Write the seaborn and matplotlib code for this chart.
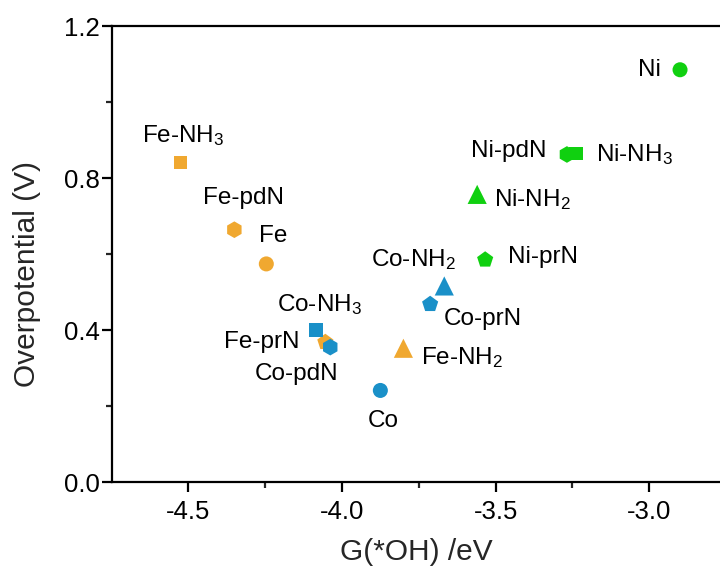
import matplotlib
matplotlib.use("Agg")
import matplotlib.pyplot as plt
import seaborn as sns
import pandas as pd
from matplotlib.ticker import MultipleLocator

# ---- data ----
names = ["Fe-NH$_3$", "Fe-pdN", "Fe", "Fe-prN", "Fe-NH$_2$",
         "Co-NH$_3$", "Co-pdN", "Co", "Co-prN", "Co-NH$_2$",
         "Ni-prN", "Ni-NH$_2$", "Ni-pdN", "Ni-NH$_3$", "Ni"]
metal = ["Fe", "Fe", "Fe", "Fe", "Fe",
         "Co", "Co", "Co", "Co", "Co",
         "Ni", "Ni", "Ni", "Ni", "Ni"]
ligand = ["NH3", "pdN", "bare", "prN", "NH2",
          "NH3", "pdN", "bare", "prN", "NH2",
          "prN", "NH2", "pdN", "NH3", "bare"]
g_oh = [-4.525, -4.35, -4.246, -4.054, -3.80,
        -4.084, -4.038, -3.875, -3.713, -3.667,
        -3.534, -3.56, -3.268, -3.238, -2.90]
overpot = [0.841, 0.664, 0.574, 0.368, 0.352,
           0.400, 0.355, 0.241, 0.468, 0.516,
           0.585, 0.757, 0.862, 0.865, 1.085]

# label offsets in pixels (dx, dy) relative to each marker
offsets = [(3, 27), (9, 32), (7, 28), (-64, 0), (59, -9),
           (3, 25), (-34, -27), (3, -31), (53, -15), (-31, 26),
           (58, 3), (55, -5), (-58, 3), (58, -1), (-31, 0)]

df = pd.DataFrame({"name": names, "metal": metal, "ligand": ligand,
                   "G": g_oh, "eta": overpot})

palette = {"Fe": "#F0A830", "Co": "#1A90C8", "Ni": "#10D010"}
markers = {"bare": "o", "NH3": "s", "NH2": "^", "pdN": "h", "prN": "p"}
sizes = {"bare": 117, "NH3": 95, "NH2": 190, "pdN": 144, "prN": 149}

sns.set_style("ticks")
plt.rcParams["font.family"] = ["Liberation Sans", "DejaVu Sans"]
plt.rcParams["mathtext.fontset"] = "custom"
plt.rcParams["mathtext.rm"] = "Liberation Sans"
plt.rcParams["mathtext.it"] = "Liberation Sans:italic"

fig = plt.figure(figsize=(7.2, 5.79), dpi=100)
ax = fig.add_axes([0.156, 0.1675, 0.844, 0.7875])

sns.scatterplot(data=df, x="G", y="eta", hue="metal", style="ligand",
                size="ligand", sizes=sizes, palette=palette, markers=markers,
                edgecolor="none", linewidth=0, legend=False, ax=ax, zorder=3)

for nm, x, y, (dx, dy) in zip(names, g_oh, overpot, offsets):
    ax.annotate(nm, (x, y), xytext=(dx, dy), textcoords="offset pixels",
                ha="center", va="center", fontsize=17.5, color="black")

ax.set_xlim(-4.747, -2.77)
ax.set_ylim(0.0, 1.2)
ax.xaxis.set_minor_locator(MultipleLocator(0.25))
ax.yaxis.set_minor_locator(MultipleLocator(0.2))
ax.set_xticks([-4.5, -4.0, -3.5, -3.0])
ax.set_xticklabels(["-4.5", "-4.0", "-3.5", "-3.0"])
ax.set_yticks([0.0, 0.4, 0.8, 1.2])
ax.set_yticklabels(["0.0", "0.4", "0.8", "1.2"])

for side in ["left", "bottom", "top"]:
    ax.spines[side].set_linewidth(1.6)
    ax.spines[side].set_color("black")
ax.spines["right"].set_visible(False)

ax.tick_params(axis="both", which="major", direction="out", length=7,
               width=1.6, labelsize=18.5, colors="black")
ax.tick_params(axis="both", which="minor", direction="out", length=4,
               width=1.6)
ax.tick_params(axis="x", which="major", pad=6)
ax.tick_params(axis="y", which="major", pad=2)
ax.tick_params(top=False, right=False, which="both")

ax.set_xlabel("G(*OH) /eV", fontsize=21.5, labelpad=10)
ax.set_ylabel("Overpotential (V)", fontsize=21.5)
ax.yaxis.set_label_coords(-0.118, 0.456)

fig.savefig("out.png", dpi=100)
